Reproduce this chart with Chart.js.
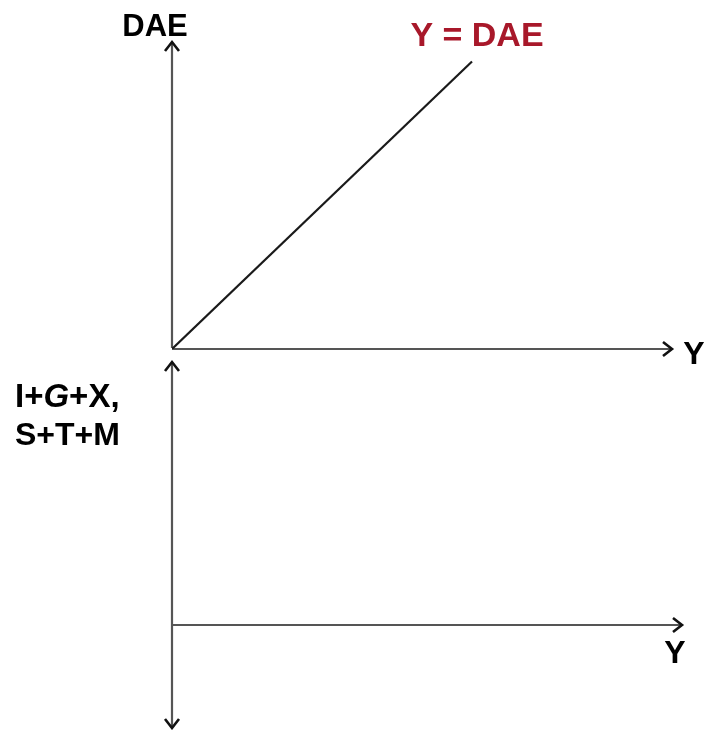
<!DOCTYPE html>
<html>
<head>
<meta charset="utf-8">
<script src="https://cdn.jsdelivr.net/npm/chart.js@4.4.1/dist/chart.umd.min.js"></script>
<style>
  html, body { margin: 0; padding: 0; background: #fff; }
  #wrap { position: relative; width: 706px; height: 730px; }
  .panel { position: absolute; left: 0; width: 706px; }
  #topPanel { top: 0; height: 380px; z-index: 2; }
  #bottomPanel { top: 355px; height: 375px; z-index: 1; }
</style>
</head>
<body>
<div id="wrap">
  <div class="panel" id="topPanel"><canvas id="chartTop"></canvas></div>
  <div class="panel" id="bottomPanel"><canvas id="chartBottom"></canvas></div>
</div>
<script>
// data (same units on both axes)
const lineX = [0, 60];          // Y
const lineY = [0, 57.5];        // DAE
const topRangeX = [0, 100];
const topRangeY = [0, 61.4];
const bottomRangeX = [0, 102];
const bottomRangeY = [-20.6, 52.6];

const topLabels = { yAxis: "DAE", xAxis: "Y", line: "Y = DAE" };
const bottomLabels = { xAxis: "Y", row1: ["I+", "G", "+X,"], row2: "S+T+M" };

const FONT = "Liberation Sans, Arial, sans-serif";

// draws an open chevron arrow head at (x, y) pointing in direction (dx, dy)
function arrowHead(ctx, x, y, dx, dy) {
    const len = 9, wid = 7;
    const px = -dy, py = dx;
    ctx.beginPath();
    ctx.moveTo(x - dx * len + px * wid, y - dy * len + py * wid);
    ctx.lineTo(x, y);
    ctx.lineTo(x - dx * len - px * wid, y - dy * len - py * wid);
    ctx.stroke();
}

//axes with arrows, drawn from the scales
const arrowAxes = {
    id: "arrowAxes",
    beforeDatasetsDraw(chart, args, opts) {
        const ctx = chart.ctx;
        const x = chart.scales.x, y = chart.scales.y;
        const ox = x.getPixelForValue(0), oy = y.getPixelForValue(0);
        const right = x.getPixelForValue(x.max);
        const top = y.getPixelForValue(y.max);
        const bottom = y.getPixelForValue(y.min);
        ctx.save();
        ctx.strokeStyle = "#555";
        ctx.lineWidth = 2.2;
        ctx.beginPath();
        ctx.moveTo(ox, oy);
        ctx.lineTo(right - 1, oy);
        ctx.moveTo(ox, bottom - 1);
        ctx.lineTo(ox, top + 1);
        ctx.stroke();
        ctx.strokeStyle = "#111";
        ctx.lineWidth = 2.6;
        ctx.lineJoin = "miter";
        arrowHead(ctx, right, oy, 1, 0);
        arrowHead(ctx, ox, top, 0, -1);
        if (opts.downArrow) arrowHead(ctx, ox, bottom, 0, 1);
        ctx.restore();
    }
};

const topText = {
    id: "topText",
    afterDraw(chart) {
        const ctx = chart.ctx;
        const x = chart.scales.x, y = chart.scales.y;
        ctx.save();
        ctx.textAlign = "center";
        ctx.textBaseline = "middle";
        ctx.fillStyle = "#000";
        ctx.font = "bold 31px " + FONT;
        ctx.fillText(topLabels.yAxis, x.getPixelForValue(0) - 17, y.getPixelForValue(y.max) - 15);
        ctx.font = "bold 32px " + FONT;
        ctx.fillText(topLabels.xAxis, x.getPixelForValue(x.max) + 22, y.getPixelForValue(0) + 6);
        ctx.fillStyle = "#a8182a";
        ctx.font = "bold 34px " + FONT;
        ctx.fillText(topLabels.line, x.getPixelForValue(lineX[1]) + 5, y.getPixelForValue(lineY[1]) - 25);
        ctx.restore();
    }
};

const bottomText = {
    id: "bottomText",
    afterDraw(chart) {
        const ctx = chart.ctx;
        const x = chart.scales.x, y = chart.scales.y;
        ctx.save();
        ctx.textBaseline = "middle";
        ctx.fillStyle = "#000";
        ctx.textAlign = "center";
        ctx.font = "bold 32px " + FONT;
        ctx.fillText(bottomLabels.xAxis, x.getPixelForValue(x.max) - 7, y.getPixelForValue(0) + 29);
        ctx.textAlign = "left";
        let cx = 15;
        const r1y = 43;
        bottomLabels.row1.forEach((part, i) => {
            ctx.font = (i === 1 ? "italic bold 33px " : "bold 33px ") + FONT;
            ctx.fillText(part, cx, r1y);
            cx += ctx.measureText(part).width;
        });
        ctx.font = "bold 32px " + FONT;
        ctx.fillText(bottomLabels.row2, 15, 81);
        ctx.restore();
    }
};

const hiddenScale = (range) => ({ type: "linear", min: range[0], max: range[1], display: false });

new Chart(document.querySelector("#chartTop"), {
    type: "scatter",
    data: {
        datasets: [{
            data: lineX.map((v, i) => ({ x: v, y: lineY[i] })),
            showLine: true,
            borderColor: "#1a1a1a",
            borderWidth: 2.2,
            pointRadius: 0
        }]
    },
    options: {
        responsive: true,
        maintainAspectRatio: false,
        animation: false,
        layout: { padding: { left: 172, right: 34, top: 42, bottom: 31 } },
        scales: { x: hiddenScale(topRangeX), y: hiddenScale(topRangeY) },
        plugins: { legend: { display: false }, tooltip: { enabled: false }, arrowAxes: {} }
    },
    plugins: [arrowAxes, topText]
});

new Chart(document.querySelector("#chartBottom"), {
    type: "scatter",
    data: { datasets: [{ data: [] }] },
    options: {
        responsive: true,
        maintainAspectRatio: false,
        animation: false,
        layout: { padding: { left: 172, right: 24, top: 7, bottom: 2 } },
        scales: { x: hiddenScale(bottomRangeX), y: hiddenScale(bottomRangeY) },
        plugins: { legend: { display: false }, tooltip: { enabled: false }, arrowAxes: { downArrow: true } }
    },
    plugins: [arrowAxes, bottomText]
});
</script>
</body>
</html>
